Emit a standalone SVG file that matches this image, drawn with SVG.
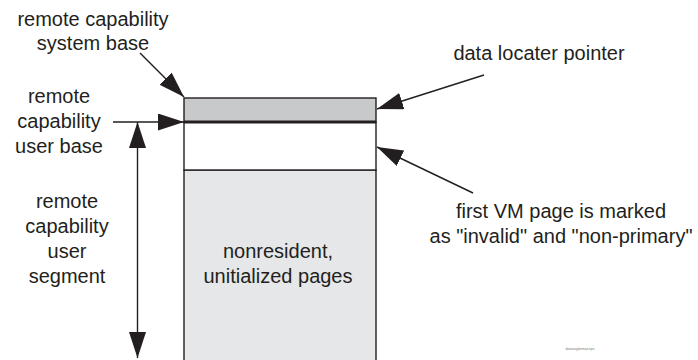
<svg xmlns="http://www.w3.org/2000/svg" width="698" height="360" viewBox="0 0 698 360">
<style>
  .t { font-family: "Liberation Sans", Arial, sans-serif; font-size: 20px; fill: #231f20; text-anchor: middle; }
  .ln { stroke: #231f20; stroke-width: 1.4; fill: none; }
  .box { stroke: #231f20; stroke-width: 1.4; }
</style>
<defs>
  <marker id="ah" markerUnits="userSpaceOnUse" markerWidth="27" markerHeight="18" refX="26" refY="8.5" orient="auto">
    <path d="M0,0 L26,8.5 L0,17 Z" fill="#231f20"/>
  </marker>
</defs>
<rect width="698" height="360" fill="#ffffff"/>
<g id="segment">
  <rect class="box" x="184" y="170" width="192" height="200" fill="#e6e7e8"/>
  <rect class="box" x="184" y="122" width="192" height="48" fill="#ffffff"/>
  <rect class="box" x="184" y="98" width="192" height="24" fill="#c8c9cb"/>
  <line x1="184" y1="122" x2="376" y2="122" stroke="#231f20" stroke-width="3"/>
  <text class="t" x="278" y="258">nonresident,</text>
  <text class="t" x="278" y="283">unitialized pages</text>
</g>
<g id="label-system-base">
  <text class="t" x="93" y="26">remote capability</text>
  <text class="t" x="93" y="50">system base</text>
</g>
<g id="label-user-base">
  <text class="t" x="59" y="103">remote</text>
  <text class="t" x="59" y="128">capability</text>
  <text class="t" x="59" y="153">user base</text>
</g>
<g id="label-user-segment">
  <text class="t" x="67" y="208">remote</text>
  <text class="t" x="67" y="233">capability</text>
  <text class="t" x="67" y="258">user</text>
  <text class="t" x="67" y="283">segment</text>
</g>
<g id="label-data-locater">
  <text class="t" x="539" y="60">data locater pointer</text>
</g>
<g id="label-first-vm">
  <text class="t" x="561" y="218">first VM page is marked</text>
  <text class="t" x="561" y="243">as "invalid" and "non-primary"</text>
</g>
<g id="connectors">
  <line class="ln" x1="140" y1="53" x2="184" y2="97" marker-end="url(#ah)"/>
  <line class="ln" x1="113" y1="122" x2="184" y2="122" marker-end="url(#ah)"/>
  <line class="ln" x1="137.5" y1="240" x2="137.5" y2="122" marker-end="url(#ah)"/>
  <line class="ln" x1="137.5" y1="240" x2="137.5" y2="358" marker-end="url(#ah)"/>
  <line class="ln" x1="484" y1="75" x2="377" y2="109" marker-end="url(#ah)"/>
  <line class="ln" x1="473" y1="193" x2="377" y2="147" marker-end="url(#ah)"/>
</g>
<text x="580" y="350" style="font-family: 'Liberation Sans', Arial, sans-serif; font-size: 3.5px; fill: #777777; text-anchor: middle;">datasegformat.eps</text>
</svg>
